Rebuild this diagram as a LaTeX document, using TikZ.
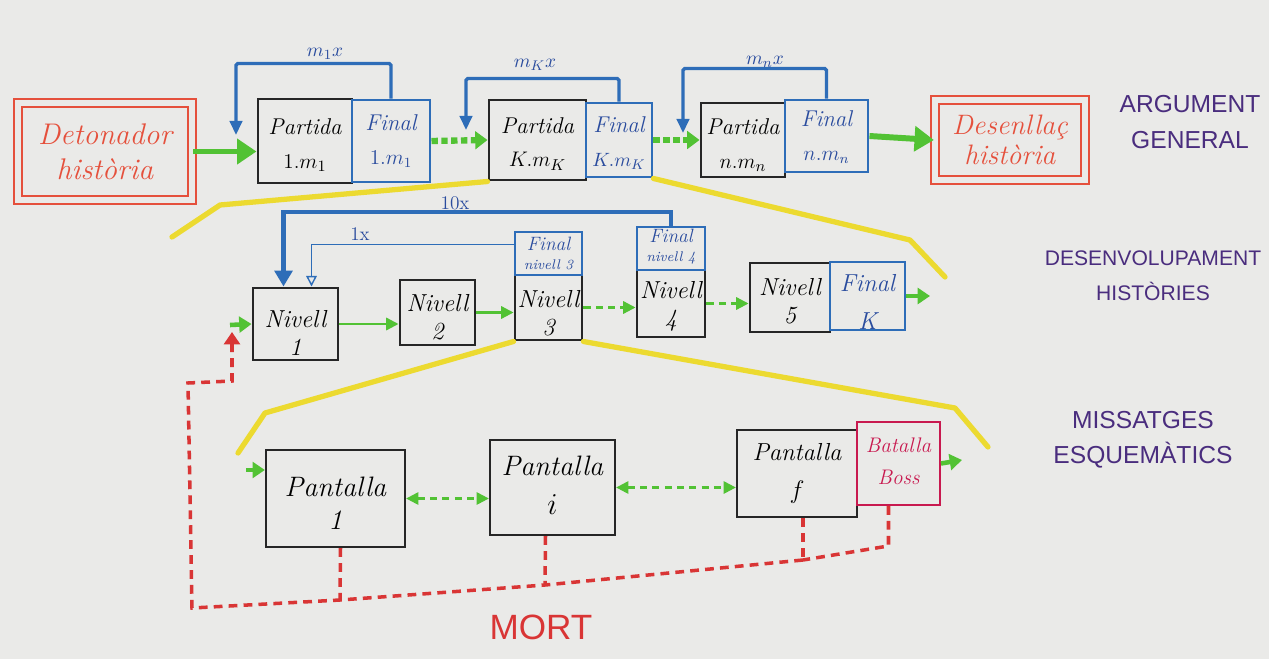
\documentclass[tikz,border=0pt]{standalone}
\usepackage{fontspec}
\newfontfamily\capsfont{Liberation Sans}
\usetikzlibrary{fit,arrows.meta,calc}
\definecolor{board}{HTML}{EAEAE8}
\definecolor{hred}{HTML}{E5503C}
\definecolor{hgreen}{HTML}{52C234}
\definecolor{hblue}{HTML}{2E6DB8}
\definecolor{htblue}{HTML}{2A4C9E}
\definecolor{hyellow}{HTML}{ECDA30}
\definecolor{hpurple}{HTML}{4A2D7E}
\definecolor{hmag}{HTML}{C8194F}
\definecolor{dred}{HTML}{D93535}
\tikzset{
  hand/.style 2 args={font=\fontsize{#1}{#2}\selectfont\itshape},
  txt/.style={inner sep=0pt, align=center, anchor=center},
  kbox/.style={draw=black!85, line width=1.7pt, inner sep=0pt},
  bbox/.style={draw=hblue, line width=1.7pt, inner sep=0pt},
  thinb/.style={draw=hblue, line width=0.9pt, inner sep=0pt},
  sbox/.style={draw=black!85, line width=1.3pt, inner sep=0pt},
  mbox/.style={draw=hmag, line width=1.1pt, inner sep=0pt},
  redbox/.style={draw=hred, line width=1.3pt, double=board, double distance=3.6pt, inner sep=0pt},
  ktxt/.style={txt, hand={13}{19}},
  btxt/.style={txt, text=htblue, hand={13}{19}},
  ntxt/.style={txt, hand={14}{16}},
  stxt/.style={txt, hand={16}{19}},
  rtxt/.style={txt, text=hred, hand={17}{20}},
  ftxt/.style={txt, text=htblue, hand={11}{11}},
  gthick/.style={draw=hgreen, line width=3.4pt, -{Triangle[length=11pt,width=14pt]}},
  gdot/.style={draw=hgreen, line width=3.6pt, dash pattern=on 3.6pt off 2pt, -{Triangle[length=7pt,width=10pt]}},
  gthin/.style={draw=hgreen, line width=1.3pt, -{Triangle[length=7pt,width=7pt]}},
  gdash/.style={draw=hgreen, line width=1.3pt, dash pattern=on 4pt off 3pt, {Triangle[length=7pt,width=7pt]}-{Triangle[length=7pt,width=7pt]}},
  gdashone/.style={draw=hgreen, line width=1.3pt, dash pattern=on 4pt off 3pt, -{Triangle[length=7pt,width=7pt]}},
  gshort/.style={draw=hgreen, line width=2.6pt, -{Triangle[length=7pt,width=9pt]}},
  loopline/.style={draw=hblue, line width=1.9pt, rounded corners=1pt, -{Triangle[length=8pt,width=7pt]}},
  loopthick/.style={draw=hblue, line width=2.6pt, -{Triangle[length=9pt,width=10pt]}},
  loopthin/.style={draw=hblue, line width=0.8pt, -{Triangle[open,length=6pt,width=6pt]}},
  looplab/.style={text=htblue, font=\fontsize{11}{13}\selectfont},
  death/.style={draw=dred, line width=2pt, dash pattern=on 5pt off 3.5pt},
  hl/.style={draw=hyellow, line width=3pt, line join=round, line cap=round},
  caps/.style={text=hpurple, align=center, font=\capsfont\fontsize{14}{20}\selectfont},
}
\begin{document}
\begin{tikzpicture}[x=0.02cm,y=-0.02cm]
\fill[board] (0,0) rectangle (1269,659);
\useasboundingbox (0,0) rectangle (1269,659);

% ---- general plot row: frames
\node[redbox, fit={(18,103)(192,200)}] (det) {};
\node[kbox, fit={(258,99)(352,183)}] (p1) {};
\node[bbox, fit={(352,100)(430,182)}] (f1) {};
\node[kbox, fit={(489,100)(586,180)}] (pk) {};
\node[bbox, fit={(586,103)(652,177)}] (fk) {};
\node[kbox, fit={(701,103)(785,177)}] (pn) {};
\node[bbox, fit={(785,100)(868,172)}] (fn) {};
\node[redbox, fit={(935,100)(1085,180)}] (des) {};
% ---- general plot row: texts
\node[rtxt] (dett) at ($(det.center)+(0,0)$) {Detonador\\història};
\node[ktxt] (p1t) at ($(p1.center)+(0,4)$) {Partida\\$1.m_1$};
\node[btxt] (f1t) at ($(f1.center)+(0,0)$) {Final\\\fontsize{12}{14}\selectfont$1.m_1$};
\node[ktxt] (pkt) at ($(pk.center)+(0,4)$) {Partida\\$K.m_K$};
\node[btxt] (fkt) at ($(fk.center)+(0,3)$) {Final\\\fontsize{11}{14}\selectfont$K.m_K$};
\node[ktxt] (pnt) at ($(pn.center)+(0,5)$) {Partida\\$n.m_n$};
\node[btxt] (fnt) at ($(fn.center)+(0,1)$) {Final\\\fontsize{12}{14}\selectfont$n.m_n$};
\node[rtxt, hand={16}{17}] (dest) at ($(des.center)+(0,0)$) {Desenllaç\\història};

% zoom guides towards the next level
\draw[hl] (pk.south west) -- (220,205) -- (172,237);
\draw[hl] (fk.south east) -- (910,240) -- (945,277);

% ---- story development row
\node[kbox, fit={(253,288)(338,360)}] (n1) {};
\node[kbox, fit={(400,280)(475,345)}] (n2) {};
\node[kbox, fit={(515,275)(582,340)}] (n3) {};
\node[thinb, fit={(515,232)(582,275)}] (fn3) {};
\node[kbox, fit={(637,270)(705,337)}] (n4) {};
\node[thinb, fit={(637,227)(705,270)}] (fn4) {};
\node[kbox, fit={(750,263)(830,332)}] (n5) {};
\node[bbox, fit={(830,262)(905,330)}] (fk2) {};
\node[ntxt] (n1t) at ($(n1.center)+(0,9)$) {Nivell\\1};
\node[ntxt] (n2t) at ($(n2.center)+(0,5)$) {Nivell\\2};
\node[ntxt] (n3t) at ($(n3.center)+(0,6)$) {Nivell\\3};
\node[ftxt] (fn3t) at ($(fn3.center)+(0,0)$) {Final\\{\fontsize{8}{9}\selectfont nivell 3}};
\node[ntxt] (n4t) at ($(n4.center)+(0,3)$) {Nivell\\4};
\node[ftxt] (fn4t) at ($(fn4.center)+(0,-2)$) {Final\\{\fontsize{8}{9}\selectfont nivell 4}};
\node[ntxt] (n5t) at ($(n5.center)+(0,4)$) {Nivell\\5};
\node[btxt, hand={14}{22}] (fk2t) at ($(fk2.center)+(0,6)$) {Final\\K};

\draw[hl] (n3.south west) -- (265,413) -- (238,453);
\draw[hl] (n3.south east) -- (955,408) -- (988,447);

% ---- schematic screens row
\node[sbox, fit={(266,450)(405,547)}] (s1) {};
\node[sbox, fit={(490,440)(615,535)}] (si) {};
\node[sbox, fit={(737,430)(857,517)}] (sf) {};
\node[mbox, fit={(857,422)(940,505)}] (bb) {};
\node[stxt] (s1t) at ($(s1.center)+(0,5)$) {Pantalla\\1};
\node[stxt, hand={16}{22}] (sit) at ($(si.center)+(0,-2)$) {Pantalla\\$i$};
\node[stxt, hand={14}{22}] (sft) at ($(sf.center)+(0,0)$) {Pantalla\\$f$};
\node[txt, text=hmag, hand={12}{18}] (bbt) at ($(bb.center)+(0,-2)$) {Batalla\\Boss};

% ---- connectors, top row
\draw[gthick] (det.east) -- (p1.west |- det.east);
\draw[gdot] (f1.east) -- (pk.west);
\draw[gdot] (fk.east) -- (pn.west);
\draw[gthick] (fn.east) -- (des.west);

\coordinate (t1) at (236,135);
\coordinate (tk) at (466,130);
\coordinate (tn) at (683,133);
\draw[loopline] (f1.north) -- ++(0,-35) -| (t1);
\draw[loopline] (fk.north) -- ++(0,-23) -| (tk);
\draw[loopline] (fn.north) -- ++(0,-30) -| (tn);
\node[looplab] (l1) at (325,54) {$m_1x$};
\node[looplab] (lk) at (535,65) {$m_Kx$};
\node[looplab] (ln) at (765,62) {$m_nx$};

% ---- connectors, middle row
\coordinate (nin) at (230,325);
\draw[gshort] (nin) -- (n1.west);
\draw[gthin] (n1.east) -- (n2.west |- n1.east);
\draw[gthin] (n2.east) -- (n3.west |- n2.east);
\draw[gdashone] (n3.east) -- (n4.west |- n3.east);
\draw[gdashone] (n4.east) -- (n5.west |- n4.east);
\coordinate (kout) at (930,296);
\draw[gshort] (fk2.east) -- (kout);

\draw[loopthick] (fn4.north) -- ++(0,-14) -| ($(n1.north west)+(32,0)$);
\draw[loopthin] ($(fn3.west)+(0,-9)$) -| ($(n1.north west)+(60,0)$);
\node[looplab] (l10) at (455,203) {10x};
\node[looplab] (l1x) at (360,234) {1x};

% ---- connectors, bottom row
\coordinate (sin) at (246,470);
\draw[gshort] (sin) -- (s1.west |- sin);
\draw[gdash] (s1.east) -- (si.west |- s1.east);
\draw[gdash] (si.east) -- (sf.west |- si.east);
\coordinate (bout) at (962,460);
\draw[gshort] (bb.east) -- (bout);

% ---- death paths back to level 1
\coordinate (jf) at (803,560);
\coordinate (ji) at (545,585);
\coordinate (j1) at (340,600);
\coordinate (jc) at (192,608);
\coordinate (jt) at (188,383);
\coordinate (jr) at (232,381);
\coordinate (nup) at (232,332);
\draw[death] ($(sf.south)+(6,0)$) -- (jf);
\draw[death] ($(bb.south)+(-10,0)$) -- ++(0,40) -- (jf);
\draw[death] ($(si.south)+(-7,0)$) -- (ji);
\draw[death] ($(s1.south)+(5,0)$) -- (j1);
\draw[death, -{Triangle[length=7pt,width=9pt]}] (jf) -- (ji) -- (j1) -- (jc) -- (jt) -- (jr) -- (nup);
\node[text=dred, font=\capsfont\fontsize{20}{22}\selectfont] (mort) at (541,627) {MORT};

% ---- level titles
\node[caps] (ag) at (1190,122) {ARGUMENT\\GENERAL};
\node[caps, font=\capsfont\fontsize{12}{20}\selectfont] (dh) at (1153,276) {DESENVOLUPAMENT\\HISTÒRIES};
\node[caps] (me) at (1143,440) {MISSATGES\\ESQUEMÀTICS};
\end{tikzpicture}
\end{document}
